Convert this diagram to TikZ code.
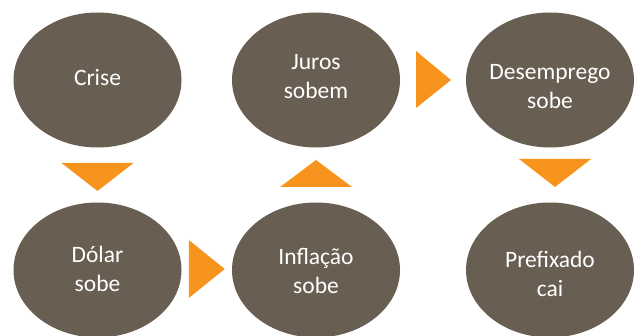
\documentclass[tikz,border=0pt]{standalone}
\usepackage{fontspec}
\setmainfont{Carlito}
\usetikzlibrary{calc,shapes.geometric}
\definecolor{marrom}{RGB}{104,94,82}
\definecolor{laranja}{RGB}{247,148,30}
\tikzset{
    bola/.style={fill=marrom, ellipse, minimum width=168pt, minimum height=135pt, inner sep=0pt},
    texto/.style={text=white, align=center, font=\fontsize{23.5}{29}\selectfont},
    seta/.style={fill=laranja}
}
\begin{document}
\begin{tikzpicture}[x=1pt,y=-1pt]
        \useasboundingbox (0,0) rectangle (634,336);

        \node[bola] (crise) at (97.5,80) {};
        \node[bola] (juros) at (316,80) {};
        \node[bola] (desemprego) at (550,80) {};
        \node[bola] (dolar) at (97.5,270) {};
        \node[bola] (inflacao) at (316,270) {};
        \node[bola] (prefixado) at (550,270) {};

        \node[texto] (crise-t) at (97.5,77.5) {Crise};
        \node[texto] (juros-t) at (316,77) {Juros\\sobem};
        \node[texto] (desemprego-t) at (550,86.5) {Desemprego\\sobe};
        \node[texto] (dolar-t) at (97.5,268.5) {Dólar\\sobe};
        \node[texto] (inflacao-t) at (316,271) {Inflação\\sobe};
        \node[texto] (prefixado-t) at (550,273.5) {Prefixado\\cai};

        \coordinate (m1) at ($(crise)!0.5!(dolar)$);
        \coordinate (m2) at ($(dolar)!0.5!(inflacao)$);
        \coordinate (m3) at ($(inflacao)!0.5!(juros)$);
        \coordinate (m4) at ($(juros)!0.5!(desemprego)$);
        \coordinate (m5) at ($(desemprego)!0.5!(prefixado)$);

        \path[seta] ($(m1)+(-36,-12)$) -- ($(m1)+(36,-12)$) -- ($(m1)+(0,16)$) -- cycle;
        \path[seta] ($(m2)+(-18,-30)$) -- ($(m2)+(-18,28)$) -- ($(m2)+(18,-1)$) -- cycle;
        \path[seta] ($(m3)+(-36,12)$) -- ($(m3)+(36,12)$) -- ($(m3)+(0,-15)$) -- cycle;
        \path[seta] ($(m4)+(-17,-29)$) -- ($(m4)+(-17,28)$) -- ($(m4)+(18,0)$) -- cycle;
        \path[seta] ($(m5)+(-31,-16)$) -- ($(m5)+(41,-16)$) -- ($(m5)+(5,12)$) -- cycle;
\end{tikzpicture}
\end{document}
